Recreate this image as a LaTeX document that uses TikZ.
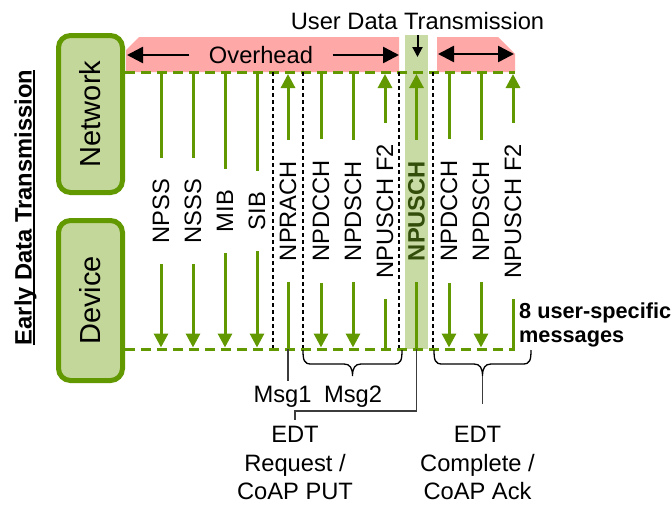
\documentclass[tikz,border=0pt]{standalone}
\usepackage{fontspec}
\setmainfont{Liberation Sans}
\usetikzlibrary{arrows.meta}
\definecolor{gline}{RGB}{98,152,0}
\definecolor{gfill}{RGB}{196,215,155}
\definecolor{bandfill}{RGB}{200,219,165}
\definecolor{pinkfill}{RGB}{255,168,168}
\definecolor{dgreen}{RGB}{50,78,10}
\definecolor{cgray}{RGB}{60,60,60}
\begin{document}
\begin{tikzpicture}[x=1pt,y=-1pt,
  every node/.style={font=\fontsize{23.7pt}{28.5pt}\selectfont, inner sep=0pt},
  devbox/.style={draw=gline, line width=5pt, fill=gfill, rounded corners=12pt, rotate=90, font=\fontsize{29pt}{34pt}\selectfont},
  chlabel/.style={rotate=90, inner xsep=21pt, inner ysep=0pt},
  gl/.style={draw=gline, line width=3pt},
  garrow/.style={gl, -{Triangle[width=14pt,length=14pt]}},
  gdash/.style={draw=gline, line width=3pt, dash pattern=on 10pt off 6pt},
  sepline/.style={draw=black, line width=1.1pt, dash pattern=on 4pt off 3pt},
  barrow/.style={draw=black, line width=2.5pt, -{Triangle[width=16pt,length=16pt]}},
  conn/.style={draw=cgray, line width=1.5pt},
  bracestyle/.style={draw=black, line width=1.3pt},
]
\useasboundingbox (0,0) rectangle (672,506);

% overhead bands and user data band
\fill[pinkfill] (126,50) -- (139,37) -- (399,37) -- (399,72) -- (126,72) -- cycle;
\fill[pinkfill] (437,37) -- (498,37) -- (515,54) -- (515,72) -- (437,72) -- cycle;
\node[fill=bandfill, minimum width=23pt, minimum height=314pt] (band) at (416.5,192) {};

% network / device timelines
\coordinate (nL) at (125,72); \coordinate (nR) at (515,72);
\coordinate (dL) at (125,349); \coordinate (dR) at (515,349);
\draw[gdash] (nL) -- (nR);
\draw[gdash] (dL) -- (dR);

% boxes
\node[devbox, minimum width=157pt, minimum height=64pt] (net) at (90.5,114) {Network};
\node[devbox, minimum width=160pt, minimum height=64pt] (dev) at (90.5,300.5) {Device};

% side title
\node[rotate=90, anchor=base, font=\bfseries\fontsize{23.7pt}{28pt}\selectfont] (edtitle) at (31.5,207.5) {Early Data Transmission};
\draw[line width=2pt] ([xshift=2.5pt]edtitle.base west) -- ([xshift=2.5pt]edtitle.base east);

% overhead arrows
\node[inner xsep=19.5pt] (ovh) at (261,55) {Overhead};
\coordinate (ovl) at (127,55); \coordinate (ovr) at (399,55);
\draw[barrow] (ovh.west) -- (ovl);
\draw[barrow] (ovh.east) -- (ovr);
\coordinate (p2l) at (438,54); \coordinate (p2r) at (514,54);
\draw[barrow, {Triangle[width=16pt,length=16pt]}-{Triangle[width=16pt,length=16pt]}] (p2l) -- (p2r);

% user data transmission
\node[anchor=base] (udt) at (417.5,29) {User Data Transmission};
\coordinate (udtip) at (417.5,57);
\draw[line width=2pt, -{Triangle[width=10pt,length=10pt]}, shorten <=6pt] (udt.south) -- (udtip);

% separators
\foreach \x/\n in {273/sa,303/sb,399/sc,433/sd}{
  \coordinate (t\n) at (\x,72); \coordinate (b\n) at (\x,348);
  \draw[sepline] (t\n) -- (b\n);
}

% downlink channels
\foreach \x/\n/\t in {161/npss/NPSS,193/nsss/NSSS,225/mib/MIB,257/sib/SIB,321/dcch/NPDCCH,353/dsch/NPDSCH,449/dcchb/NPDCCH,481/dschb/NPDSCH}{
  \coordinate (t\n) at (\x,73.5);
  \coordinate (b\n) at (\x,347.5);
  \node[chlabel] (\n) at (\x,211) {\t};
  \draw[gl] (t\n) -- (\n.east);
  \draw[garrow] (\n.west) -- (b\n);
}
% uplink channels
\foreach \x/\n/\t in {288/rach/NPRACH,385/ftwo/NPUSCH F2,513/ftwob/NPUSCH F2}{
  \coordinate (t\n) at (\x,74);
  \coordinate (b\n) at (\x,349);
  \node[chlabel] (\n) at (\x,211) {\t};
  \draw[garrow] (\n.east) -- (t\n);
  \draw[gl] (b\n) -- (\n.west);
}
\coordinate (tusch) at (416.5,74);
\coordinate (busch) at (416.5,349);
\node[chlabel, text=dgreen, font=\bfseries\fontsize{23.7pt}{28.5pt}\selectfont] (usch) at (416.5,211) {NPUSCH};
\draw[garrow] (usch.east) -- (tusch);
\draw[gl] (busch) -- (usch.west);

% user specific note
\node[anchor=north west, align=left, font=\bfseries\fontsize{21.7pt}{24pt}\selectfont] (usr) at (519,303) {8 user-specific\\messages};

% Msg1
\node[anchor=base] (msg1) at (282.5,402) {Msg1};
\draw[conn, shorten >=4pt] (brach) -- (brach |- msg1.north);

% Msg2 brace
\draw[bracestyle] (303,350) .. controls (303,360) and (304,364) .. (311,364) -- (344,364)
  .. controls (350,364) and (352.5,368) .. (352.5,376)
  .. controls (352.5,368) and (355,364) .. (361,364) -- (394,364)
  .. controls (401,364) and (402,360) .. (402,350);
\node[anchor=base] (msg2) at (353,402) {Msg2};

% EDT request
\node[align=center, anchor=north] (edtl) at (295,426) {EDT\\Request /\\CoAP PUT};
\draw[conn, shorten >=6pt] (busch) -- ++(0,62) -| (edtl.north);

% EDT complete brace
\draw[bracestyle] (434,350) .. controls (434,360) and (435,364) .. (442,364) -- (474,364)
  .. controls (480,364) and (482.5,368) .. (482.5,376)
  .. controls (482.5,368) and (485,364) .. (491,364) -- (523,364)
  .. controls (530,364) and (531,360) .. (531,350);
\coordinate (b2tip) at (482.5,376);
\node[align=center, anchor=north] (edtr) at (477.5,426) {EDT\\Complete /\\CoAP Ack};
\draw[conn] (b2tip) -- (b2tip |- 0,404);
\end{tikzpicture}
\end{document}
